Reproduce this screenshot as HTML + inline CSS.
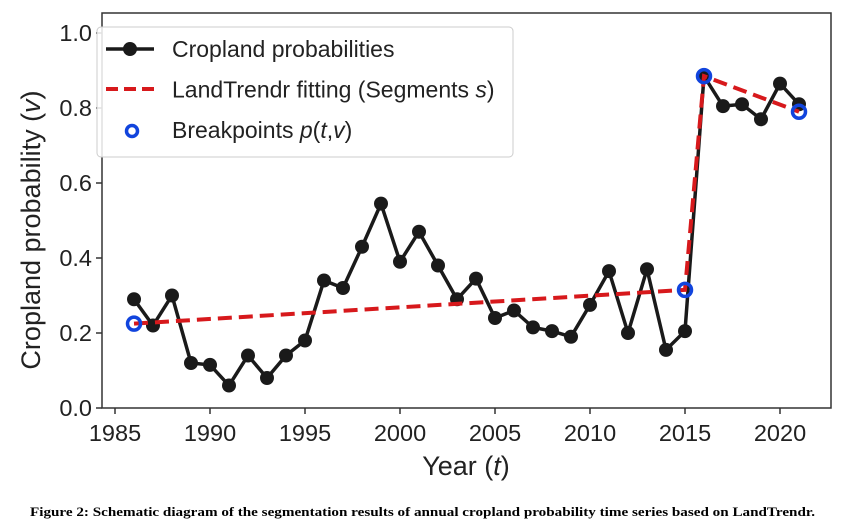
<!DOCTYPE html>
<html><head><meta charset="utf-8"><style>
body{margin:0;background:#fff;width:843px;height:525px;overflow:hidden}
text{font-family:"Liberation Sans",sans-serif;fill:#222}
</style></head><body>
<svg id="c" width="843" height="525"></svg>
<script>
const years=[1986,1987,1988,1989,1990,1991,1992,1993,1994,1995,1996,1997,1998,1999,2000,2001,2002,2003,2004,2005,2006,2007,2008,2009,2010,2011,2012,2013,2014,2015,2016,2017,2018,2019,2020,2021];
const probs=[0.29,0.22,0.30,0.12,0.115,0.06,0.14,0.08,0.14,0.18,0.34,0.32,0.43,0.545,0.39,0.47,0.38,0.29,0.345,0.24,0.26,0.215,0.205,0.19,0.275,0.365,0.20,0.37,0.155,0.205,0.885,0.805,0.81,0.77,0.865,0.81];
const bpYears=[1986,2015,2016,2021];
const bpVals=[0.225,0.315,0.885,0.79];
const xTicks=[1985,1990,1995,2000,2005,2010,2015,2020];
const yTicks=[0,0.2,0.4,0.6,0.8,1.0];
const NS='http://www.w3.org/2000/svg',svg=document.getElementById('c');
const X=y=>115+(y-1985)*19, Y=v=>408-v*375;
function mk(t,a,p){const e=document.createElementNS(NS,t);for(const k in a)e.setAttribute(k,a[k]);(p||svg).appendChild(e);return e;}
const frame=mk('rect',{x:102,y:13,width:729,height:395,fill:'none',stroke:'#333','stroke-width':1.5});


xTicks.forEach(t=>{
 mk('line',{x1:X(t),x2:X(t),y1:408,y2:414,stroke:'#333','stroke-width':1.5});
 const tx=mk('text',{x:X(t),y:441,'text-anchor':'middle','font-size':23.5});tx.textContent=t;
 
 
});
yTicks.forEach(t=>{
 mk('line',{x1:96,x2:102,y1:Y(t),y2:Y(t),stroke:'#333','stroke-width':1.5});
 const tx=mk('text',{x:92,y:Y(t)+8,'text-anchor':'end','font-size':23.5});tx.textContent=t.toFixed(1);
 
 
});
const xt=mk('text',{x:466,y:475,'text-anchor':'middle','font-size':27});xt.innerHTML='Year (<tspan font-style="italic">t</tspan>)';


const yt=mk('text',{x:0,y:0,'text-anchor':'middle','font-size':27,transform:'translate(40,230) rotate(-90)'});yt.innerHTML='Cropland probability (<tspan font-style="italic">v</tspan>)';


const line=mk('polyline',{points:years.map((y,i)=>X(y)+','+Y(probs[i])).join(' '),fill:'none',stroke:'#1a1a1a','stroke-width':3.5});


years.forEach((y,i)=>{const c=mk('circle',{cx:X(y),cy:Y(probs[i]),r:7,fill:'#1a1a1a'});
 
 });
const fit=mk('polyline',{points:bpYears.map((y,i)=>X(y)+','+Y(bpVals[i])).join(' '),fill:'none',stroke:'#d7191c','stroke-width':4,'stroke-dasharray':'14,7'});


bpYears.forEach((y,i)=>{const c=mk('circle',{cx:X(y),cy:Y(bpVals[i]),r:6.5,fill:'none',stroke:'#1144dd','stroke-width':3.5});
 
 });
const lg=mk('g',{});


mk('rect',{x:97,y:27,width:416,height:130,rx:4,fill:'#fff','fill-opacity':0.85,stroke:'#ccc'},lg);
mk('line',{x1:106,x2:154,y1:49,y2:49,stroke:'#1a1a1a','stroke-width':3.5},lg);
mk('circle',{cx:130,cy:49,r:7,fill:'#1a1a1a'},lg);
mk('line',{x1:106,x2:154,y1:89,y2:89,stroke:'#d7191c','stroke-width':4,'stroke-dasharray':'12,6'},lg);
mk('circle',{cx:132,cy:131,r:5.5,fill:'none',stroke:'#1144dd','stroke-width':3.5},lg);
const labs=['Cropland probabilities','LandTrendr fitting (Segments <tspan font-style="italic">s</tspan>)','Breakpoints <tspan font-style="italic">p</tspan>(<tspan font-style="italic">t</tspan>,<tspan font-style="italic">v</tspan>)'];
labs.forEach((l,i)=>{const t=mk('text',{x:172,y:57+i*40.5,'font-size':23},lg);t.innerHTML=l;
 
 });
const cap=mk('text',{x:30,y:516,'font-size':12.5,'font-weight':'bold',textLength:785,lengthAdjust:'spacingAndGlyphs'});
cap.style.fontFamily='"Liberation Serif",serif';cap.style.fill='#000';
cap.textContent='Figure 2: Schematic diagram of the segmentation results of annual cropland probability time series based on LandTrendr.';


</script>
</body></html>
